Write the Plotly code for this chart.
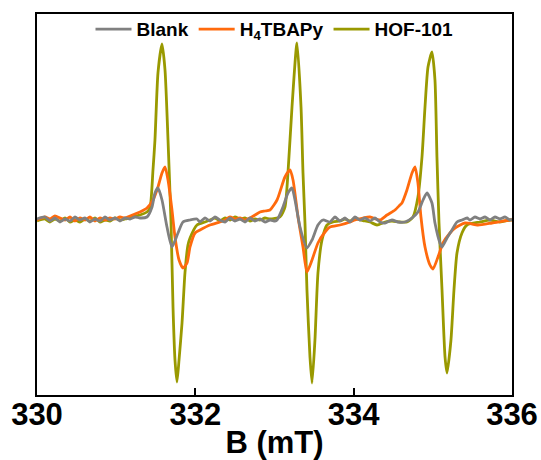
import plotly.graph_objects as go

# ---- data (B in mT, intensity in arbitrary units) ----
blank_B = [330.000, 330.101, 330.164, 330.227, 330.291, 330.354, 330.417, 330.480, 330.543, 330.606,
           330.669, 330.733, 330.796, 330.859, 330.922, 330.985, 331.048, 331.112, 331.175, 331.238,
           331.301, 331.389, 331.453, 331.490, 331.528, 331.579, 331.642, 331.705, 331.781, 331.844,
           331.933, 332.021, 332.059, 332.122, 332.185, 332.248, 332.311, 332.375, 332.438, 332.501,
           332.564, 332.627, 332.690, 332.754, 332.817, 332.881, 332.943, 333.006, 333.032, 333.107,
           333.170, 333.221, 333.259, 333.322, 333.410, 333.474, 333.549, 333.613, 333.701, 333.764,
           333.827, 333.890, 333.954, 334.017, 334.080, 334.143, 334.206, 334.269, 334.332, 334.396,
           334.484, 334.560, 334.648, 334.737, 334.812, 334.876, 334.926, 334.989, 335.027, 335.090,
           335.116, 335.179, 335.242, 335.305, 335.368, 335.432, 335.469, 335.532, 335.596, 335.659,
           335.722, 335.785, 335.848, 335.911, 335.975, 336.000]
blank_I = [1, 3, -1, 2, -2, 1, -1, 3, 0, 2,
           -2, 1, -1, 3, 0, 2, -1, 2, 1, 3,
           2, 3, 13, 27, 32, 20, -7, -27, -13, -2,
           0, 1, -2, 2, -1, 3, 0, -2, 2, -1,
           1, -2, 2, -1, 1, -2, 0, -1, 0, 13,
           27, 32, 20, -7, -28, -20, -5, 0, -2, 3,
           -1, 2, -2, 3, 0, 2, -1, 2, -2, -3,
           0, -2, -2, 2, 8, 20, 27, 17, -3, -23,
           -27, -18, -10, -2, 0, 2, 0, 3, 1, 3,
           0, 3, 1, 3, 0, 1]

h4_B = [330.000, 330.101, 330.164, 330.227, 330.291, 330.354, 330.417, 330.480, 330.543, 330.606,
        330.669, 330.733, 330.796, 330.859, 330.922, 330.985, 331.048, 331.112, 331.175, 331.238,
        331.301, 331.389, 331.465, 331.528, 331.579, 331.617, 331.655, 331.705, 331.743, 331.794,
        331.844, 331.895, 331.933, 331.996, 332.059, 332.185, 332.311, 332.375, 332.438, 332.501,
        332.564, 332.627, 332.690, 332.754, 332.817, 332.880, 332.943, 333.032, 333.132, 333.196,
        333.234, 333.297, 333.360, 333.410, 333.474, 333.549, 333.638, 333.701, 333.827, 333.954,
        334.017, 334.118, 334.206, 334.332, 334.421, 334.522, 334.585, 334.610, 334.673, 334.737,
        334.775, 334.812, 334.850, 334.901, 334.964, 335.002, 335.065, 335.128, 335.217, 335.280,
        335.406, 335.570, 335.747, 335.975, 336.000]
h4_I = [0, 3, 1, 4, 2, 0, 3, -1, 2, 0,
        3, -1, 2, 0, 2, 1, 3, 2, 4, 6,
        8, 12, 20, 33, 47, 53, 40, 10, -17, -40,
        -48, -43, -27, -13, -10, -5, -2, 0, 3, 1,
        2, 0, 2, 5, 8, 9, 10, 20, 43, 50,
        40, 3, -27, -52, -40, -23, -12, -7, -5, -2,
        0, 2, 3, 0, 5, 10, 15, 17, 30, 47,
        53, 37, 3, -27, -45, -49, -37, -23, -13, -8,
        -3, -5, -3, 0, 0]

hof_B = [330.000, 330.101, 330.164, 330.227, 330.291, 330.354, 330.417, 330.480, 330.543, 330.606,
         330.669, 330.733, 330.796, 330.859, 330.922, 330.985, 331.048, 331.112, 331.175, 331.238,
         331.301, 331.389, 331.427, 331.465, 331.490, 331.528, 331.579, 331.617, 331.655, 331.693,
         331.718, 331.743, 331.768, 331.794, 331.832, 331.869, 331.907, 331.933, 332.021, 332.122,
         332.185, 332.248, 332.311, 332.375, 332.438, 332.501, 332.564, 332.627, 332.690, 332.754,
         332.817, 332.880, 332.943, 333.069, 333.132, 333.170, 333.221, 333.284, 333.335, 333.360,
         333.385, 333.410, 333.448, 333.474, 333.511, 333.549, 333.600, 333.663, 333.739, 333.827,
         333.890, 333.954, 334.017, 334.080, 334.143, 334.206, 334.295, 334.396, 334.484, 334.585,
         334.673, 334.749, 334.812, 334.863, 334.901, 334.939, 334.989, 335.027, 335.052, 335.078,
         335.116, 335.154, 335.179, 335.229, 335.267, 335.305, 335.368, 335.431, 335.596, 335.722,
         335.848, 335.975, 336.000]
hof_I = [-1, 1, -2, 1, -1, 2, -2, 0, -2, 1,
         -1, 2, -2, 0, -1, 2, 0, 1, 2, 4,
         5, 8, 12, 50, 80, 147, 176, 150, 80, -3,
         -87, -140, -162, -140, -103, -53, -25, -18, -5, -2,
         0, 2, -1, 2, 0, 3, 1, 2, -1, 1,
         0, 2, 1, 3, 13, 47, 113, 177, 113, 47,
         -3, -70, -137, -163, -120, -53, -20, -5, -2, -1,
         1, -1, 2, 0, -1, -2, -5, -2, -1, -2,
         -2, 3, 23, 63, 113, 153, 168, 140, 63, -3,
         -70, -137, -153, -120, -70, -33, -13, -5, -2, 0,
         -2, 0, 0]

x_ticks = [330, 332, 334, 336]
series_names = ["Blank", "H<sub>4</sub>TBAPy", "HOF-101"]
colors = ["#808080", "#FF6A0D", "#999900"]

fig = go.Figure()
# draw HOF first (bottom), Blank last (top); legend reversed to keep Blank first
for name, B, I, c in [(series_names[2], hof_B, hof_I, colors[2]),
                      (series_names[1], h4_B, h4_I, colors[1]),
                      (series_names[0], blank_B, blank_I, colors[0])]:
    fig.add_trace(go.Scatter(x=B, y=I, mode="lines", name=name,
                             line=dict(color=c, width=2.8, shape="spline", smoothing=0.6)))

font_family = "Liberation Sans, Arial, sans-serif"
fig.update_layout(
    width=541, height=460,
    margin=dict(l=37, r=29, t=14, b=65, autoexpand=False),
    paper_bgcolor="white", plot_bgcolor="white",
    font=dict(family=font_family, color="black"),
    legend=dict(orientation="h", x=0.5, xanchor="center", y=1.01, yanchor="top",
                traceorder="reversed", bgcolor="rgba(0,0,0,0)",
                font=dict(size=19, family=font_family, weight="bold"),
                itemwidth=36, tracegroupgap=0),
    showlegend=True,
)
fig.update_xaxes(range=[330, 336], tickvals=x_ticks, ticks="inside", ticklen=7, tickwidth=2,
                 tickcolor="black", showline=True, linecolor="black", linewidth=2, mirror=True,
                 showgrid=False, zeroline=False, automargin=False, ticklabelstandoff=-9,
                 tickfont=dict(size=31, family=font_family, weight="bold"),
                 title=dict(text="B (mT)", standoff=12,
                            font=dict(size=31, family=font_family, weight="bold")))
fig.update_yaxes(range=[-175, 206], showticklabels=False, ticks="", showline=True,
                 linecolor="black", linewidth=2, mirror=True, showgrid=False, zeroline=False,
                 automargin=False)

fig.write_html("out.html")
